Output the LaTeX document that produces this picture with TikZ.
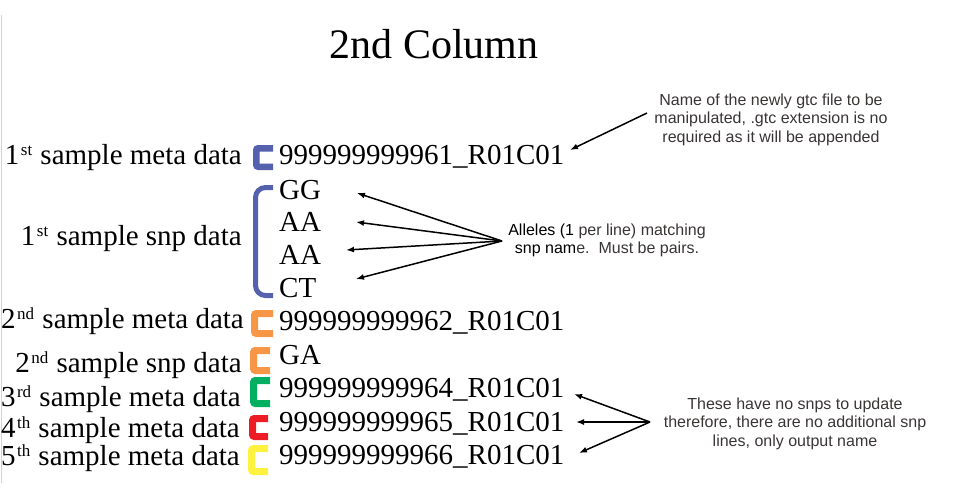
\documentclass[tikz,border=0pt]{standalone}
\usepackage{fontspec}
\setmainfont{Liberation Serif}
\newfontfamily\annotfont{Liberation Sans}
\usetikzlibrary{arrows.meta}
\definecolor{bblue}{HTML}{5561AC}
\definecolor{borange}{HTML}{F79646}
\definecolor{bgreen}{HTML}{00B060}
\definecolor{bred}{HTML}{ED1C24}
\definecolor{byellow}{HTML}{FFF23F}
\definecolor{notegray}{HTML}{3A3535}
\definecolor{edgegray}{HTML}{D4D4D4}
\newcommand\supx[1]{\kern1.5pt\relax\raisebox{9pt}{\fontsize{17}{17}\selectfont #1}\kern1pt\relax}
\begin{document}
\begin{tikzpicture}[x=1pt,y=-1pt,
  lbl/.style={anchor=base east, inner sep=0, font=\fontsize{29}{30}\selectfont},
  val/.style={anchor=base west, inner sep=0, font=\fontsize{29}{30}\selectfont},
  note/.style={align=center, inner sep=0, font=\annotfont\fontsize{16}{18.5}\selectfont, text=notegray},
  brk/.style={line width=7pt, rounded corners=2pt},
  arr/.style={line width=1.5pt, -{Latex[length=8pt,width=6pt]}}]
\useasboundingbox (0,0) rectangle (962,499);
\draw[edgegray, line width=1pt] (1,15) -- (1,483);

% title
\node[anchor=base, inner sep=0, font=\fontsize{42}{44}\selectfont] (title) at (434,58) {2nd Column};

% left labels
\node[lbl] (l1) at (242,164) {1\supx{st} sample meta data};
\node[lbl] (l2) at (242,245) {1\supx{st} sample snp data};
\node[lbl] (l3) at (244,328) {2\supx{nd} sample meta data};
\node[lbl] (l4) at (242,372) {2\supx{nd} sample snp data};
\node[lbl] (l5) at (241,406) {3\supx{rd} sample meta data};
\node[lbl] (l6) at (240,437) {4\supx{th} sample meta data};
\node[lbl] (l7) at (240,465) {5\supx{th} sample meta data};

% values
\node[val] (v1) at (279,164) {999999999961\_R01C01};
\node[val] (g1) at (279,199) {GG};
\node[val] (g2) at (279,231) {AA};
\node[val] (g3) at (279,264) {AA};
\node[val] (g4) at (279,297) {CT};
\node[val] (v2) at (279,330) {999999999962\_R01C01};
\node[val] (g5) at (279,364) {GA};
\node[val] (v3) at (279,397) {999999999964\_R01C01};
\node[val] (v4) at (279,431) {999999999965\_R01C01};
\node[val] (v5) at (279,464) {999999999966\_R01C01};

% brackets
\draw[brk, bblue, line width=6.5pt] (273,148.25) -- (256.25,148.25) -- (256.25,166.75) -- (273,166.75);
\draw[bblue, line width=5pt, rounded corners=10pt] (273,187.5) -- (255.5,187.5) -- (255.5,295.5) -- (273,295.5);
\draw[brk, borange] (273,313.5) -- (254.5,313.5) -- (254.5,333.5) -- (273,333.5);
\draw[brk, borange] (270,350.5) -- (253.5,350.5) -- (253.5,370.5) -- (270,370.5);
\draw[brk, bgreen] (270,380.5) -- (253.5,380.5) -- (253.5,403.5) -- (270,403.5);
\draw[brk, bred] (268,418.5) -- (252.5,418.5) -- (252.5,436.5) -- (268,436.5);
\draw[brk, byellow] (268,448.5) -- (251.5,448.5) -- (251.5,471.5) -- (268,471.5);

% annotations
\node[note] (n1) at (771,119.5) {Name of the newly gtc file to be\\manipulated, .gtc extension is no\\required as it will be appended};
\node[note] (n2) at (607,240.5) {{\color{black}Alleles (1} per line) matching\\{\color{black}snp nam}e.\ \ Must be pairs.};
\node[note] (n3) at (795,423.5) {These have no snps to update\\therefore, there are no additional snp\\lines, only output name};

% arrow anchor points
\coordinate (h1) at (647,113);
\coordinate (t1) at (570,150);
\coordinate (h2) at (502,241);
\coordinate (t2a) at (357,193);
\coordinate (t2b) at (356,222);
\coordinate (t2c) at (346,250);
\coordinate (t2d) at (356,279);
\coordinate (h3) at (650,422);
\coordinate (t3a) at (574,394);
\coordinate (t3b) at (576,422);
\coordinate (t3c) at (579,453);

\draw[arr] (h1) -- (t1);
\draw[arr] (h2) -- (t2a);
\draw[arr] (h2) -- (t2b);
\draw[arr] (h2) -- (t2c);
\draw[arr] (h2) -- (t2d);
\draw[arr] (h3) -- (t3a);
\draw[arr] (h3) -- (t3b);
\draw[arr] (h3) -- (t3c);
\end{tikzpicture}
\end{document}
